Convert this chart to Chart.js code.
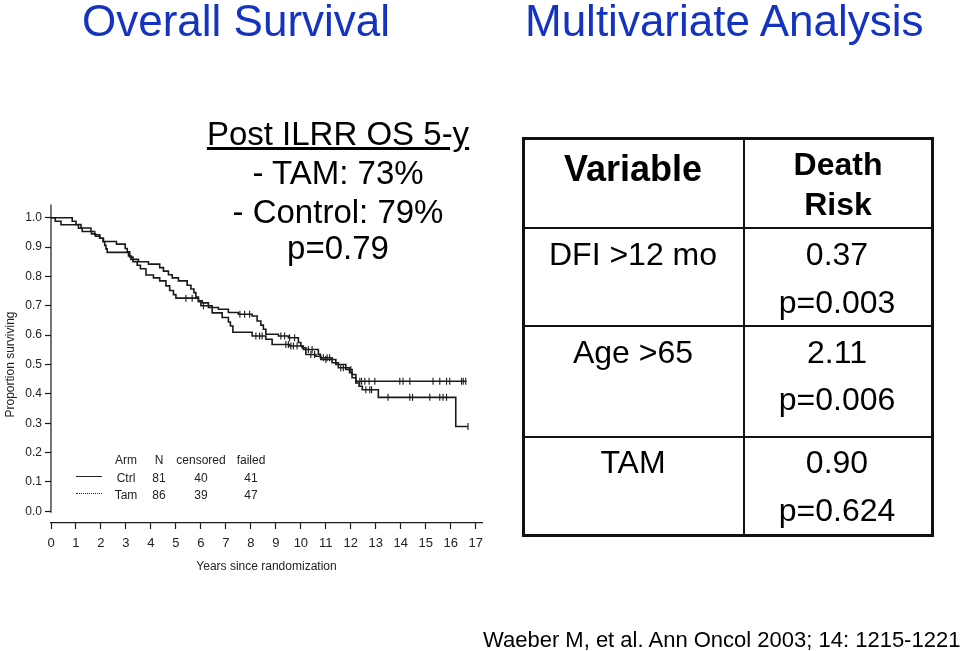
<!DOCTYPE html>
<html>
<head>
<meta charset="utf-8">
<script src="https://cdn.jsdelivr.net/npm/chart.js@4.4.0/dist/chart.umd.min.js"></script>
<style>
  html, body { margin: 0; padding: 0; background: #fff; }
  #page { position: relative; width: 960px; height: 651px; overflow: hidden; font-family: "Liberation Sans", Arial, sans-serif; }
  #km { position: absolute; left: 0; top: 0; }
  .t { position: absolute; white-space: nowrap; line-height: 1; }
  .c { transform: translateX(-50%); }
  .rule { position: absolute; background: #111; }
</style>
</head>
<body>
<div id="page">
  <canvas id="km" width="960" height="651"></canvas>
</div>
<script>
// Kaplan-Meier steps (time in years, proportion surviving)
const ctrlTimes = [0, 0.17, 0.4, 1.1, 1.25, 1.62, 1.78, 1.95, 2.1, 2.15, 2.2, 2.25, 3.1, 3.2, 3.5, 3.9, 4.35, 4.5, 4.7, 4.85, 5.1, 5.45, 5.6, 5.72, 5.8, 5.9, 6.05, 6.3, 6.7, 7.1, 7.5, 8.05, 8.25, 8.4, 8.5, 8.6, 9.1, 9.5, 9.9, 10.0, 10.1, 10.7, 10.78, 11.25, 11.4, 11.8, 11.95, 12.05, 12.2, 16.63];
const ctrlSurv = [1.0, 0.988, 0.976, 0.964, 0.953, 0.945, 0.937, 0.93, 0.918, 0.906, 0.894, 0.882, 0.87, 0.858, 0.85, 0.842, 0.83, 0.818, 0.806, 0.795, 0.785, 0.77, 0.757, 0.745, 0.73, 0.717, 0.71, 0.694, 0.688, 0.677, 0.671, 0.665, 0.648, 0.634, 0.62, 0.603, 0.597, 0.591, 0.575, 0.563, 0.551, 0.535, 0.523, 0.517, 0.5, 0.489, 0.472, 0.455, 0.443, 0.443];
const tamTimes = [0, 0.85, 1.0, 1.2, 1.6, 1.75, 1.95, 2.08, 2.62, 2.97, 3.05, 3.15, 3.28, 3.45, 3.58, 3.8, 4.1, 4.35, 4.6, 4.75, 4.9, 5.0, 5.9, 6.0, 6.45, 6.85, 7.1, 7.18, 7.28, 8.05, 8.6, 8.85, 9.55, 10.05, 10.2, 10.6, 10.8, 11.25, 11.5, 11.8, 12.05, 12.2, 12.33, 12.46, 13.1, 16.2, 16.69];
const tamSurv = [1.0, 0.988, 0.977, 0.965, 0.953, 0.942, 0.93, 0.919, 0.91, 0.895, 0.884, 0.866, 0.85, 0.838, 0.826, 0.805, 0.795, 0.785, 0.768, 0.752, 0.738, 0.726, 0.714, 0.70, 0.676, 0.66, 0.645, 0.631, 0.61, 0.597, 0.586, 0.568, 0.563, 0.557, 0.534, 0.528, 0.517, 0.506, 0.489, 0.483, 0.466, 0.437, 0.426, 0.414, 0.388, 0.289, 0.289];

// censoring marks (years)
const ctrlCensor = [7.56, 7.75, 7.95, 9.2, 9.35, 9.55, 9.75, 10.3, 10.45, 10.9, 11.05, 11.15, 12.36, 12.43, 12.56, 12.73, 12.96, 13.96, 14.09, 14.36, 15.29, 15.56, 15.83, 15.96, 16.43, 16.5, 16.6];
const tamCensor = [5.4, 5.65, 6.1, 8.2, 8.35, 8.45, 9.4, 9.5, 9.6, 9.7, 9.85, 10.4, 10.55, 11.0, 11.6, 11.7, 12.0, 12.6, 12.76, 12.83, 13.49, 14.36, 14.47, 15.16, 15.56, 15.69, 15.83, 16.69];

// legend table inside the plot
const legendArms = ["Ctrl", "Tam"];
const legendN = [81, 86];
const legendCensored = [40, 39];
const legendFailed = [41, 47];

// text panels
const summaryLines = ["Post ILRR OS 5-y", "- TAM: 73%", "- Control: 79%", "p=0.79"];
const tableVars = ["DFI >12 mo", "Age >65", "TAM"];
const tableRisk = ["0.37", "2.11", "0.90"];
const tableP = ["p=0.003", "p=0.006", "p=0.624"];

const ink = "#1a1a1a";

function toXY(times, surv) {
  return times.map((t, i) => ({ x: t, y: surv[i] }));
}
// survival value at time t (last step at or before t)
function stepAt(times, surv, t) {
  let v = surv[0];
  for (let i = 0; i < times.length; i++) { if (times[i] <= t) v = surv[i]; }
  return v;
}
function censorXY(cens, times, surv) {
  return cens.map(t => ({ x: t, y: stepAt(times, surv, t) }));
}

// 'before' in Chart.js = run flat at the old value, then drop at the new time
const lineStyle = { borderColor: ink, borderWidth: 1.6, pointRadius: 0, stepped: "before", fill: false };
const tickStyle = { type: "scatter", showLine: false, pointStyle: "line", rotation: 90, pointRadius: 3.5, borderColor: ink, borderWidth: 1.1 };

// y axis line drawn separately: it stops above the offset x axis
const yAxisLine = {
  id: "yAxisLine",
  afterDraw(chart) {
    const { ctx, scales } = chart;
    const x0 = chart.chartArea.left;
    ctx.save();
    ctx.strokeStyle = ink;
    ctx.lineWidth = 1.2;
    ctx.beginPath();
    ctx.moveTo(x0, scales.y.getPixelForValue(1.045));
    ctx.lineTo(x0, scales.y.getPixelForValue(-0.005));
    ctx.stroke();
    ctx.restore();
  }
};

new Chart(document.getElementById("km"), {
  type: "line",
  data: {
    datasets: [
      Object.assign({ label: "Ctrl", data: toXY(ctrlTimes, ctrlSurv) }, lineStyle),
      Object.assign({ label: "Tam", data: toXY(tamTimes, tamSurv) }, lineStyle),
      Object.assign({ label: "Ctrl censored", data: censorXY(ctrlCensor, ctrlTimes, ctrlSurv) }, tickStyle),
      Object.assign({ label: "Tam censored", data: censorXY(tamCensor, tamTimes, tamSurv) }, tickStyle)
    ]
  },
  options: {
    responsive: false,
    animation: false,
    layout: { padding: { left: 0, top: 206, right: 478, bottom: 61 } },
    plugins: { legend: { display: false }, tooltip: { enabled: false } },
    scales: {
      x: {
        type: "linear",
        min: 0,
        max: 17.25,
        afterFit: s => { s.height = 67; },
        ticks: { stepSize: 1, includeBounds: false, padding: 7, color: "#222", font: { family: "Liberation Sans", size: 13 } },
        grid: { drawOnChartArea: false, tickLength: 6, color: ink, tickWidth: 1.2 },
        border: { color: ink, width: 1.2 },
        title: { display: true, text: "Years since randomization", color: "#222", font: { family: "Liberation Sans", size: 12 }, padding: { top: 0, bottom: 16 } }
      },
      y: {
        min: -0.04,
        max: 1.04,
        afterFit: s => { s.width = 51; },
        ticks: { stepSize: 0.1, includeBounds: false, padding: 3, color: "#222", font: { family: "Liberation Sans", size: 12 }, callback: v => v.toFixed(1) },
        grid: { drawOnChartArea: false, tickLength: 6, color: ink, tickWidth: 1.2 },
        border: { display: false },
        title: { display: true, text: "Proportion surviving", color: "#222", font: { family: "Liberation Sans", size: 12 }, padding: { top: 3, bottom: 0 } }
      }
    }
  },
  plugins: [yAxisLine]
});

// ---- HTML text overlays ----
const page = document.getElementById("page");
function put(str, x, baseline, size, opt) {
  opt = opt || {};
  const d = document.createElement("div");
  d.className = "t" + (opt.center ? " c" : "");
  d.textContent = str;
  d.style.fontSize = size + "px";
  d.style.left = x + "px";
  d.style.top = (baseline - 0.8465 * size) + "px";
  d.style.color = opt.color || "#000";
  if (opt.bold) d.style.fontWeight = "bold";
  if (opt.underline) d.style.textDecoration = "underline";
  page.appendChild(d);
}
function rule(x, y, w, h) {
  const d = document.createElement("div");
  d.className = "rule";
  d.style.left = x + "px"; d.style.top = y + "px";
  d.style.width = w + "px"; d.style.height = h + "px";
  page.appendChild(d);
}

const blue = "#1434c0";
put("Overall Survival", 82, 36.7, 44, { color: blue });
put("Multivariate Analysis", 525, 36.7, 44, { color: blue });

const summaryBase = [145, 184, 223, 259];
summaryLines.forEach((s, i) => put(s, 338, summaryBase[i], 33, { center: true, underline: i === 0 }));

// legend inside the plot
const legCols = [126, 159, 201, 251];
["Arm", "N", "censored", "failed"].forEach((h, i) => put(h, legCols[i], 464, 12, { center: true, color: "#222" }));
const legBase = [481.7, 499.3];
legendArms.forEach((a, i) => {
  put(a, legCols[0], legBase[i], 12, { center: true, color: "#222" });
  put(String(legendN[i]), legCols[1], legBase[i], 12, { center: true, color: "#222" });
  put(String(legendCensored[i]), legCols[2], legBase[i], 12, { center: true, color: "#222" });
  put(String(legendFailed[i]), legCols[3], legBase[i], 12, { center: true, color: "#222" });
  const ln = document.createElement("div");
  ln.style.position = "absolute";
  ln.style.left = "76px";
  ln.style.width = "26px";
  ln.style.top = (legBase[i] - 6) + "px";
  ln.style.borderTop = (i === 0 ? "1px solid " : "1px dotted ") + "#222";
  page.appendChild(ln);
});

// multivariate table
rule(522, 137, 412, 3);
rule(522, 534, 412, 3);
rule(522, 137, 3, 400);
rule(931, 137, 3, 400);
rule(743, 137, 2, 400);
rule(522, 227, 412, 2);
rule(522, 325, 412, 2);
rule(522, 436, 412, 2);

put("Variable", 633, 181, 36, { center: true, bold: true });
put("Death", 838, 175, 32, { center: true, bold: true });
put("Risk", 838, 215, 32, { center: true, bold: true });

const rowBase = [265, 362.7, 473.3];
const rowBase2 = [312.7, 410, 520.7];
tableVars.forEach((v, i) => {
  put(v, 633, rowBase[i], 32, { center: true });
  put(tableRisk[i], 837, rowBase[i], 32, { center: true });
  put(tableP[i], 837, rowBase2[i], 32, { center: true });
});

put("Waeber M, et al. Ann Oncol 2003; 14: 1215-1221", 483, 648, 22);
</script>
</body>
</html>
